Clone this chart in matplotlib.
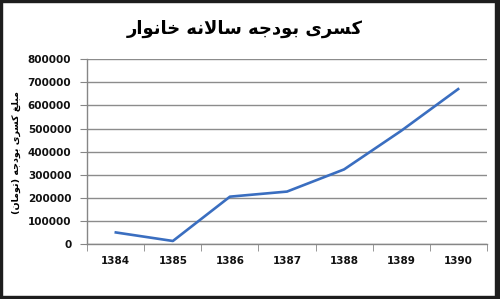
import matplotlib
matplotlib.use("Agg")
import matplotlib.pyplot as plt
from matplotlib.patches import Rectangle
from matplotlib.ticker import FixedLocator

years = ["1384", "1385", "1386", "1387", "1388", "1389", "1390"]
deficit = [50000, 13000, 205000, 227000, 323000, 490000, 671000]
y_ticks = [0, 100000, 200000, 300000, 400000, 500000, 600000, 700000, 800000]
title_text = "کسری بودجه سالانه خانوار"
ylabel_text = "مبلغ کسری بودجه (تومان)"

# --- minimal Persian shaping (presentation forms) + visual reordering ---
FORMS = {
    "ا": (0xFE8D, 0xFE8E, None, None),
    "ب": (0xFE8F, 0xFE90, 0xFE91, 0xFE92),
    "ت": (0xFE95, 0xFE96, 0xFE97, 0xFE98),
    "ج": (0xFE9D, 0xFE9E, 0xFE9F, 0xFEA0),
    "خ": (0xFEA5, 0xFEA6, 0xFEA7, 0xFEA8),
    "د": (0xFEA9, 0xFEAA, None, None),
    "ر": (0xFEAD, 0xFEAE, None, None),
    "س": (0xFEB1, 0xFEB2, 0xFEB3, 0xFEB4),
    "غ": (0xFECD, 0xFECE, 0xFECF, 0xFED0),
    "ل": (0xFEDD, 0xFEDE, 0xFEDF, 0xFEE0),
    "م": (0xFEE1, 0xFEE2, 0xFEE3, 0xFEE4),
    "ن": (0xFEE5, 0xFEE6, 0xFEE7, 0xFEE8),
    "ه": (0xFEE9, 0xFEEA, 0xFEEB, 0xFEEC),
    "و": (0xFEED, 0xFEEE, None, None),
    "ی": (0xFBFC, 0xFBFD, 0xFBFE, 0xFBFF),
    "ک": (0xFB8E, 0xFB8F, 0xFB90, 0xFB91),
    "LA": (0xFEFB, 0xFEFC, None, None),
}


def shape(text):
    chars = []
    i = 0
    while i < len(text):
        if text[i] == "ل" and i + 1 < len(text) and text[i + 1] == "ا":
            chars.append("LA")
            i += 2
        else:
            chars.append(text[i])
            i += 1
    out = []
    for k, c in enumerate(chars):
        if c not in FORMS:
            out.append(c)
            continue
        prev = chars[k - 1] if k > 0 else None
        nxt = chars[k + 1] if k + 1 < len(chars) else None
        join_prev = prev in FORMS and FORMS[prev][2] is not None
        join_next = nxt in FORMS and FORMS[c][2] is not None
        iso, fin, ini, med = FORMS[c]
        if join_prev and join_next:
            cp = med
        elif join_prev:
            cp = fin
        elif join_next:
            cp = ini
        else:
            cp = iso
        out.append(chr(cp))
    mirror = {"(": ")", ")": "("}
    return "".join(mirror.get(c, c) for c in reversed(out))


fig = plt.figure(figsize=(5.0, 2.99), dpi=100)
ax = fig.add_axes([0.1746, 0.184, 0.7988, 0.6177])

x = list(range(len(years)))
ax.plot(x, deficit, color="#3A6EC0", linewidth=1.9, solid_joinstyle="round")

ax.set_xlim(-0.5, len(years) - 0.5)
ax.set_ylim(0, 800000)
ax.set_yticks(y_ticks)
ax.set_yticklabels([str(v) for v in y_ticks])
ax.set_xticks(x)
ax.set_xticklabels(years)
ax.xaxis.set_minor_locator(FixedLocator([i - 0.5 for i in range(len(years) + 1)]))
ax.tick_params(axis="x", which="major", length=0, pad=9, labelsize=7.5, colors="#111111")
ax.tick_params(axis="x", which="minor", length=5, color="#868686", direction="out")
ax.tick_params(axis="y", which="major", length=5, color="#868686", pad=6.5, labelsize=7.5,
               labelcolor="#111111")
for lab in ax.get_xticklabels() + ax.get_yticklabels():
    lab.set_fontweight("bold")

ax.grid(axis="y", color="#8C8C8C", linewidth=1.0)
ax.set_axisbelow(True)
for s in ["top", "right"]:
    ax.spines[s].set_visible(False)
for s in ["left", "bottom"]:
    ax.spines[s].set_color("#868686")
    ax.spines[s].set_linewidth(1.0)

fig.text(0.49, 0.905, shape(title_text), ha="center", va="center",
         fontsize=13, fontweight="bold", family="DejaVu Sans")
fig.text(0.032, 0.49, shape(ylabel_text), ha="center", va="center", rotation=90,
         fontsize=6.8, fontweight="bold", family="DejaVu Sans")

# outer frame
fc = "#1E1E1E"
fig.patches.append(Rectangle((0, 0), 2 / 500, 1, transform=fig.transFigure, color=fc, zorder=10))
fig.patches.append(Rectangle((0, 1 - 2 / 299), 1, 2 / 299, transform=fig.transFigure, color=fc, zorder=10))
fig.patches.append(Rectangle((1 - 5 / 500, 0), 5 / 500, 1, transform=fig.transFigure, color=fc, zorder=10))
fig.patches.append(Rectangle((0, 0), 1, 3 / 299, transform=fig.transFigure, color=fc, zorder=10))

fig.savefig("out.png", dpi=100)
